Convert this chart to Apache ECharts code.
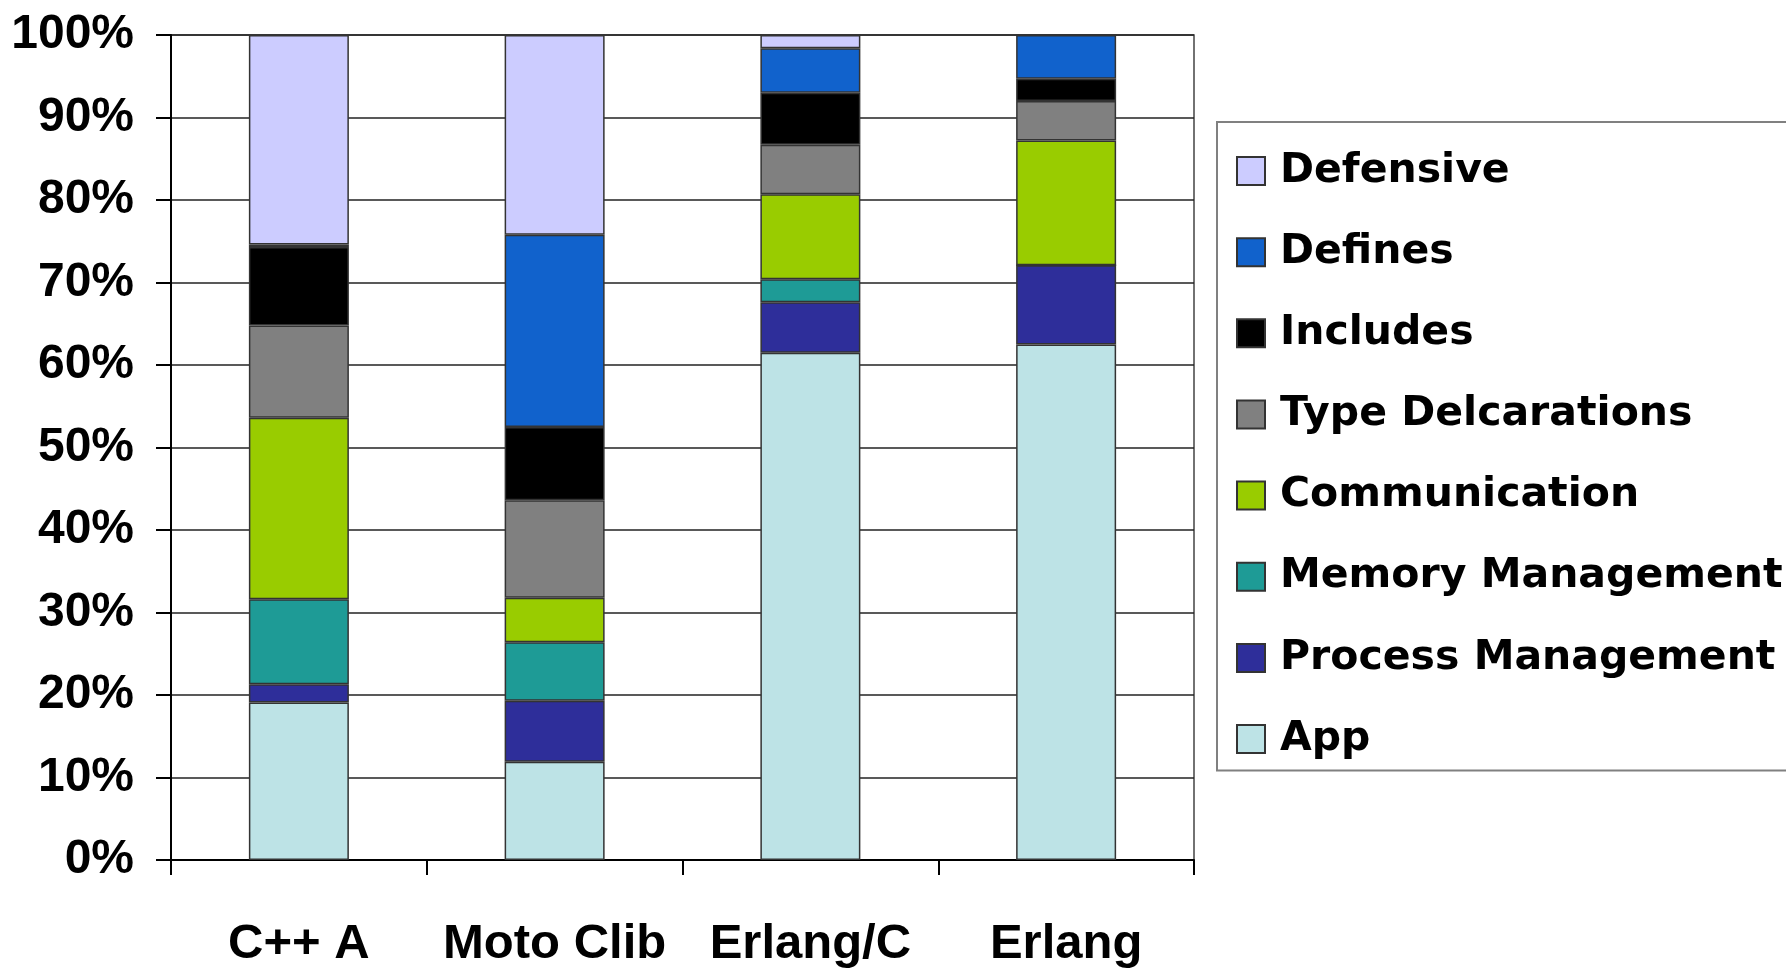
<!DOCTYPE html>
<html>
<head>
<meta charset="utf-8">
<script src="https://cdn.jsdelivr.net/npm/echarts@6/dist/echarts.min.js"></script>
<style>html,body{margin:0;padding:0;background:#fff;}#c{width:1786px;height:972px;}</style>
</head>
<body>
<div id="c"></div>
<script>
const categories = ['C++ A', 'Moto Clib', 'Erlang/C', 'Erlang'];
const app = [19.1, 11.9, 61.5, 62.5];
const processMgmt = [2.2, 7.4, 6.1, 9.6];
const memoryMgmt = [10.3, 7.1, 2.8, 0];
const communication = [22.0, 5.4, 10.3, 15.1];
const typeDecl = [11.2, 11.8, 6.0, 4.8];
const includes = [9.5, 8.9, 6.3, 2.7];
const defines = [0.3, 23.3, 5.4, 5.3];
const defensive = [25.4, 24.2, 1.6, 0];
const yTicks = [0, 10, 20, 30, 40, 50, 60, 70, 80, 90, 100];

const seriesDefs = [
  { name: 'App', data: app, color: '#BDE3E6' },
  { name: 'Process Management', data: processMgmt, color: '#2E2E9A' },
  { name: 'Memory Management', data: memoryMgmt, color: '#1E9B96' },
  { name: 'Communication', data: communication, color: '#99CC00' },
  { name: 'Type Delcarations', data: typeDecl, color: '#808080' },
  { name: 'Includes', data: includes, color: '#000000' },
  { name: 'Defines', data: defines, color: '#1162CC' },
  { name: 'Defensive', data: defensive, color: '#CCCCFF' }
];

const chart = echarts.init(document.getElementById('c'), null, { renderer: 'canvas' });
chart.setOption({
  backgroundColor: '#ffffff',
  animation: false,
  grid: {
    left: 171, right: 592, top: 35, bottom: 112,
    show: true, borderColor: '#444', borderWidth: 1.5, backgroundColor: 'transparent'
  },
  legend: {
    orient: 'vertical',
    left: 1217, top: 122,
    data: seriesDefs.map(s => s.name).reverse(),
    icon: 'rect',
    itemWidth: 28, itemHeight: 28, itemGap: 40.15,
    padding: [28.5, 60, 11, 19],
    borderColor: '#808080', borderWidth: 2, backgroundColor: '#fff',
    textStyle: { fontFamily: 'DejaVu Sans', fontWeight: 'bold', fontSize: 41, color: '#000', padding: [0, 0, 0, 10], lineHeight: 41 },
    selectedMode: false
  },
  xAxis: {
    type: 'category',
    data: categories,
    axisLine: { lineStyle: { color: '#000', width: 2 } },
    axisTick: { show: true, interval: 0, length: 15, lineStyle: { color: '#000', width: 2 } },
    axisLabel: { interval: 0, margin: 60, fontFamily: 'Liberation Sans', fontWeight: 'bold', fontSize: 49, color: '#000' },
    splitLine: { show: false }
  },
  yAxis: {
    type: 'value',
    min: 0, max: 100, interval: 10,
    axisLine: { show: true, lineStyle: { color: '#000', width: 2 } },
    axisTick: { show: true, length: 15, lineStyle: { color: '#000', width: 2 } },
    axisLabel: {
      margin: 37, fontFamily: 'Liberation Sans', fontWeight: 'bold', fontSize: 48, color: '#000',
      customValues: yTicks,
      formatter: v => v + '%'
    },
    splitLine: { show: true, lineStyle: { color: '#222', width: 1.5 } }
  },
  series: seriesDefs.map(s => ({
    name: s.name,
    type: 'bar',
    stack: 'total',
    data: s.data,
    barWidth: 100,
    itemStyle: { color: s.color, borderColor: '#333', borderWidth: 1.5 },
    emphasis: { disabled: true }
  }))
});
</script>
</body>
</html>
